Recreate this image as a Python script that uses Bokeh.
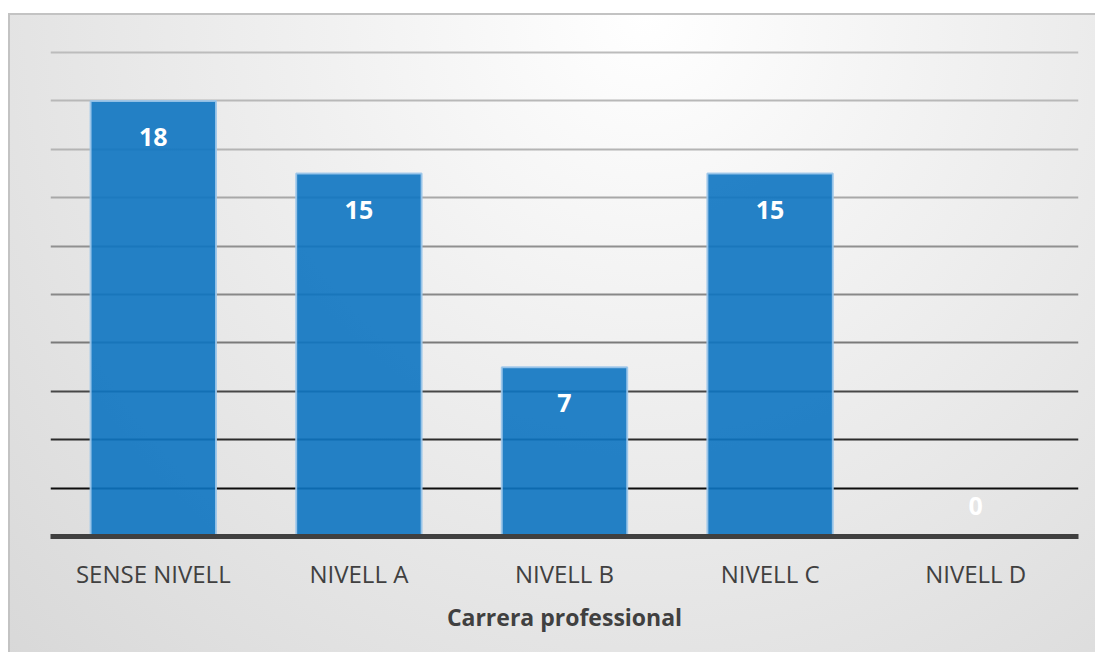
from bokeh.plotting import figure
from bokeh.models import ColumnDataSource, Range1d, Grid, FixedTicker
from bokeh.core.properties import value
from bokeh.embed import file_html
from bokeh.resources import INLINE

# ---- data ----
categories = ["SENSE NIVELL", "NIVELL A", "NIVELL B", "NIVELL C", "NIVELL D"]
counts = [18, 15, 7, 15, 0]
x_title = "Carrera professional"
grid_values = [2, 4, 6, 8, 10, 12, 14, 16, 18, 20]
grid_colors = ["#0d0d0d", "#2b2b2b", "#474747", "#7a7a7a", "#888888",
               "#909090", "#a8a8a8", "#b4b4b4", "#b8b8b8", "#bcbcbc"]

labels = [str(v) for v in counts]
label_offsets = [36 if v > 0 else -31 for v in counts]

src = ColumnDataSource(dict(cat=categories, val=counts, lab=labels, off=label_offsets))

bg = {
    "background-color": "#ffffff",
    "background-image": "linear-gradient(#c3c3c3,#c3c3c3), linear-gradient(#c3c3c3,#c3c3c3), "
                        "radial-gradient(ellipse farthest-corner at 58% 0%, #ffffff 0%, #f1f1f1 35%, #d8d8d8 100%)",
    "background-position": "8px 13px, 8px 13px, 10px 15px",
    "background-size": "100% 2px, 2px 100%, 100% 100%",
    "background-repeat": "no-repeat",
}

p = figure(x_range=categories, y_range=Range1d(0, 20.5),
           width=1095, height=652, output_backend="svg", toolbar_location=None,
           y_axis_location=None, min_border_left=50, min_border_right=17,
           min_border_top=40, min_border_bottom=116, styles=bg)
p.background_fill_alpha = 0
p.border_fill_alpha = 0
p.outline_line_color = None
p.xgrid.visible = False
p.ygrid.visible = False

for gv, gc in zip(grid_values, grid_colors):
    p.add_layout(Grid(dimension=1, ticker=FixedTicker(ticks=[gv]),
                      grid_line_color=gc, grid_line_width=2))

p.vbar(x="cat", top="val", width=0.61, source=src,
       fill_color="#0d74c1", fill_alpha=0.9,
       line_color="#9cc6ea", line_width=2, line_alpha=0.9)

p.text(x="cat", y="val", text="lab", y_offset="off", source=src,
       text_align="center", text_baseline="middle",
       text_color="white", text_font=value("Open Sans"),
       text_font_style="bold", text_font_size="25px")

ax = p.xaxis[0]
ax.axis_line_color = "#404040"
ax.axis_line_width = 5
ax.major_tick_line_color = None
ax.minor_tick_line_color = None
ax.major_label_text_font = "Open Sans"
ax.major_label_text_font_size = "24px"
ax.major_label_text_color = "#404040"
ax.major_label_standoff = 14
ax.axis_label = x_title
ax.axis_label_text_font = "Open Sans"
ax.axis_label_text_font_style = "bold"
ax.axis_label_text_font_size = "23px"
ax.axis_label_text_color = "#404040"
ax.axis_label_standoff = 8

open("out.html", "w").write(file_html(p, INLINE))
